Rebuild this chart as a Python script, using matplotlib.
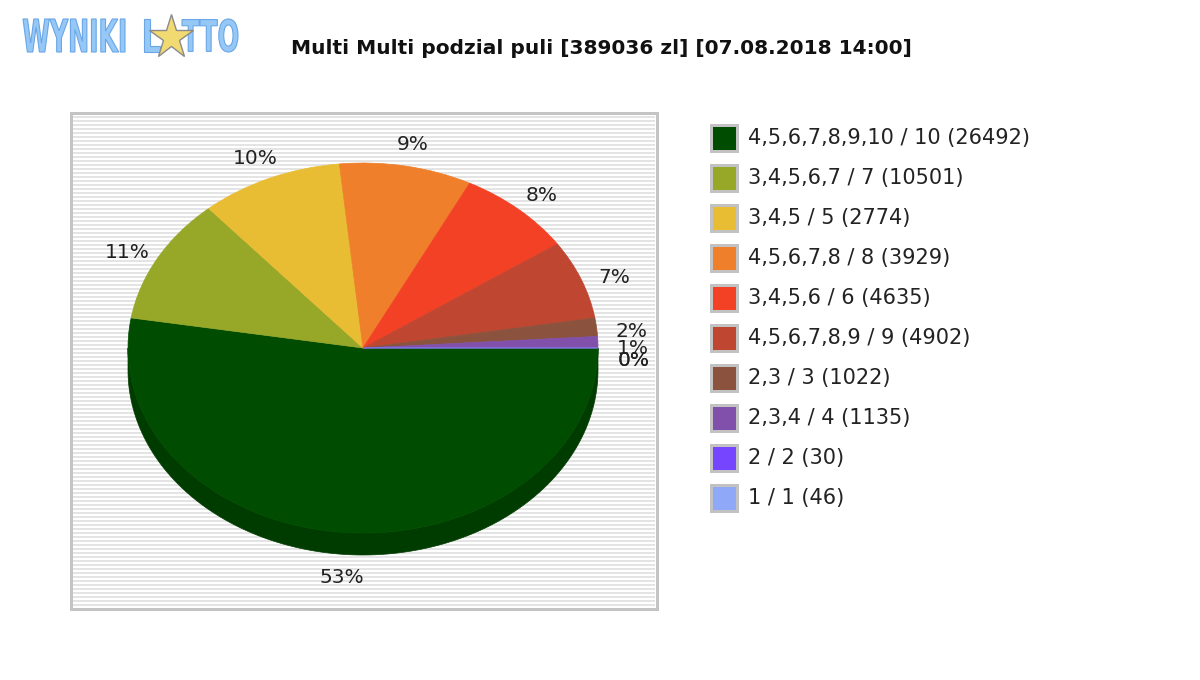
import numpy as np
import matplotlib.pyplot as plt
from matplotlib.patches import Rectangle, PathPatch
from matplotlib.textpath import TextPath
from matplotlib.font_manager import FontProperties
from matplotlib.transforms import Affine2D

# data
labels = ['4,5,6,7,8,9,10 / 10 (26492)', '3,4,5,6,7 / 7 (10501)', '3,4,5 / 5 (2774)',
          '4,5,6,7,8 / 8 (3929)', '3,4,5,6 / 6 (4635)', '4,5,6,7,8,9 / 9 (4902)',
          '2,3 / 3 (1022)', '2,3,4 / 4 (1135)', '2 / 2 (30)', '1 / 1 (46)']
shares = [52.6, 11.0, 9.8, 9.1, 8.0, 6.9, 1.6, 1.0, 0.0, 0.0]
colors = ['#004c00', '#97a829', '#e9bd33', '#ef7f2a', '#f34126',
          '#bf4630', '#8b523d', '#8150aa', '#7645ff', '#8fa8f7']
title = 'Multi Multi podzial puli [389036 zl] [07.08.2018 14:00]'

W, H = 1200, 680
fig = plt.figure(figsize=(12, 6.8), dpi=100)

# pixel-space background axes
bg = fig.add_axes([0, 0, 1, 1])
bg.set_xlim(0, W)
bg.set_ylim(H, 0)
bg.axis('off')

# plot frame with horizontal stripes
fx0, fy0, fx1, fy1 = 71, 113, 657, 609
bg.add_patch(Rectangle((fx0, fy0), fx1 - fx0, fy1 - fy0, facecolor='white',
                       edgecolor='#c4c4c4', linewidth=3 * 0.72, zorder=1))
bg.hlines(np.arange(fy0 + 3, fy1 - 2, 4) + 0.5, fx0 + 2, fx1 - 2,
          color='#e4e4e4', linewidth=2 * 0.72, zorder=2)


def fit_text(ax, s, x0, x1, y0, y1, fc, ec):
    tp = TextPath((0, 0), s, size=10, prop=FontProperties(family='DejaVu Sans', weight='bold'))
    ext = tp.get_extents()
    tr = (Affine2D().translate(-ext.x0, -ext.y0)
          .scale((x1 - x0) / ext.width, -(y1 - y0) / ext.height)
          .translate(x0, y1))
    ax.add_patch(PathPatch(tr.transform_path(tp), facecolor=fc, edgecolor=ec,
                           linewidth=0.8, zorder=5))


# logo
fit_text(bg, 'WYNIKI', 23, 125, 19, 52, '#95c8f6', '#6aa6e6')
fit_text(bg, 'L', 144, 160, 19, 52, '#95c8f6', '#6aa6e6')
fit_text(bg, 'TTO', 182, 238, 19, 52, '#95c8f6', '#6aa6e6')
bg.plot(171, 37, marker='*', markersize=33, markerfacecolor='#f1da72',
        markeredgecolor='#8a8a8a', markeredgewidth=1, zorder=6)

bg.text(601, 48, title, ha='center', va='center', fontsize=14.5,
        fontweight='bold', color='#111111')

# legend
for i, (lab, c) in enumerate(zip(labels, colors)):
    y = 138 + 40 * i
    bg.add_patch(Rectangle((711, y - 13), 26, 26, facecolor=c, edgecolor='#c2c2c2',
                           linewidth=3 * 0.72, zorder=3))
    bg.text(748, y, lab, ha='left', va='center', fontsize=15, color='#222222')

# pie axes: ellipse rx=235px, ry=185px centred at (363, 348)
cx, cy, rx, ry = 363, 348, 235, 185
pax = fig.add_axes([fx0 / W, (H - fy1) / H, (fx1 - fx0) / W, (fy1 - fy0) / H])
wedges, _ = pax.pie(shares, colors=colors, startangle=0, counterclock=False, radius=1)
for w in wedges:
    w.set_edgecolor(w.get_facecolor())
    w.set_linewidth(0.5)
    w.set_zorder(3)
pax.set_aspect('auto')
pax.set_xlim((fx0 - cx) / rx, (fx1 - cx) / rx)
pax.set_ylim(-(fy1 - cy) / ry, (cy - fy0) / ry)
pax.axis('off')

# 3D side of the front (green) slice
depth = 22 / ry
t = np.linspace(np.pi, 2 * np.pi, 200)
side_x = np.concatenate([np.cos(t), np.cos(t[::-1])])
side_y = np.concatenate([np.sin(t), np.sin(t[::-1]) - depth])
pax.fill(side_x, side_y, color='#003c00', linewidth=0.5, zorder=2)

# percentage labels
tot = sum(shares)
cum = np.cumsum([0] + shares) / tot * 360
prev_y, prev_txt = None, None
for i, v in enumerate(shares):
    mid = np.radians(-(cum[i] + cum[i + 1]) / 2)
    lx = 1.15 * np.cos(mid)
    if np.sin(mid) < 0:
        lx = 1.12 * np.cos(mid)
        ly = 1.08 * np.sin(mid) - depth - 8 / ry
    else:
        ly = 1.12 * np.sin(mid) - 7 * np.cos(mid) ** 2 / ry
    txt = '%d%%' % round(v)
    if prev_y is not None and np.cos(mid) > 0.9:
        if txt == prev_txt and v == 0:
            ly = prev_y
        elif prev_y - ly < 12 / ry:
            ly = prev_y - 12 / ry
    pax.text(lx, ly, txt, ha='center', va='center', fontsize=14.5, color='#222222', zorder=5)
    prev_y, prev_txt = ly, txt

fig.savefig('out.png', dpi=100, facecolor='white')
